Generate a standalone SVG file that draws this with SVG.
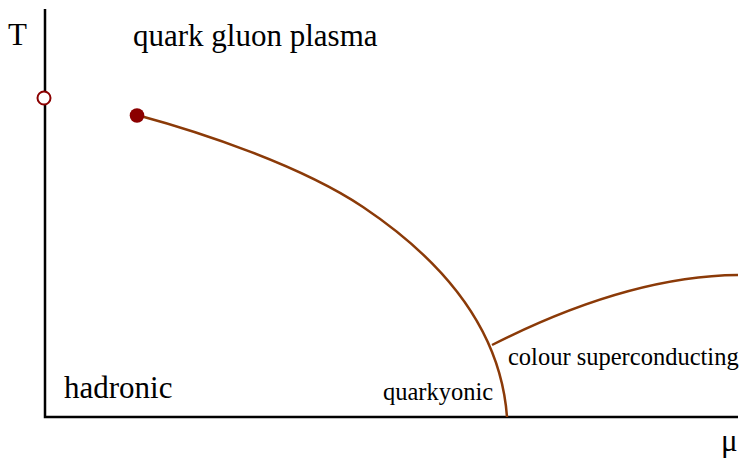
<svg xmlns="http://www.w3.org/2000/svg" width="746" height="459" viewBox="0 0 746 459">
<style>
.axis{stroke:#000;stroke-width:2.5;fill:none}
.line{stroke:#8b3a08;stroke-width:2.5;fill:none}
text{font-family:'Liberation Serif','Times New Roman','DejaVu Serif',serif;fill:#000}
.big{font-size:31px}
.small{font-size:24.5px}
</style>
<rect width="746" height="459" fill="#fff"/>
<g id="connectors">
<path class="axis" d="M45,9 V417 H738"/>
<path class="line" d="M137,115 C200,132 300,165 363,207 C430,252 500,320 507,417"/>
<path class="line" d="M492,345 C555,313 645,276 738,275"/>
</g>
<g id="labels" font-family="Liberation Serif, serif">
<text class="big" x="8" y="45" font-family="Liberation Serif, serif">T</text>
<text class="big" x="721" y="451" font-family="Liberation Serif, serif">μ</text>
<text class="big" x="133" y="46" font-family="Liberation Serif, serif">quark gluon plasma</text>
<text class="big" x="64" y="398" font-family="Liberation Serif, serif">hadronic</text>
<text class="small" x="383" y="400" font-family="Liberation Serif, serif">quarkyonic</text>
<text class="small" x="508" y="365" font-family="Liberation Serif, serif">colour superconducting</text>
</g>
<g id="points">
<circle cx="44" cy="98" r="6.5" fill="#fff" stroke="#8b0000" stroke-width="2"/>
<circle cx="137" cy="115.5" r="7.3" fill="#8b0000"/>
</g>
</svg>
